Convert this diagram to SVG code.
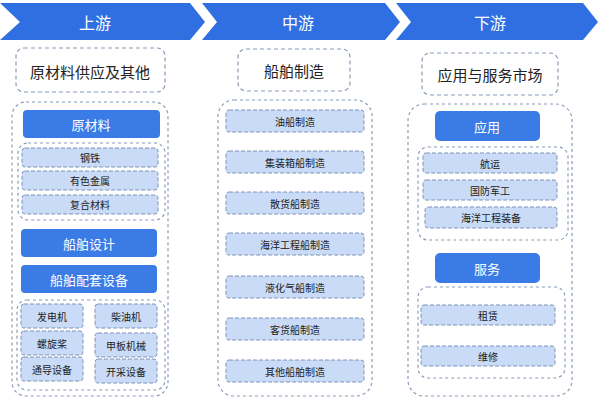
<svg xmlns="http://www.w3.org/2000/svg" width="600" height="400" viewBox="0 0 600 400">
<style>
text{font-family:"Noto Sans CJK SC","Noto Sans",sans-serif;text-anchor:middle;dominant-baseline:central}
.ban{fill:#2f6fe2}
.bt{fill:#fff;font-size:16px}
.hd{fill:#fff;stroke:#8a9bb8;stroke-width:1.2;stroke-dasharray:4 3}
.ht{fill:#222;font-size:15px}
.grp{fill:none;stroke:#8a9bb8;stroke-width:1.2;stroke-dasharray:3 3}
.blue{fill:#3a7be6}
.btx{fill:#fff;font-size:13px}
.it{fill:#c9dbf6;stroke:#7d93b8;stroke-width:1;stroke-dasharray:4 2}
.itx{fill:#222;font-size:10px}
.itx2{fill:#222;font-size:11px}
</style>
<rect width="600" height="400" fill="#fff"/>
<g id="banners">
<polygon class="ban" points="0,3 190,3 205,22 190,40 0,40 20,22"/>
<text class="bt" x="95" y="22">上游</text>
<polygon class="ban" points="202,3 385,3 400,22 385,40 202,40 217,22"/>
<text class="bt" x="298" y="22">中游</text>
<polygon class="ban" points="396,3 583,3 598,22 583,40 396,40 411,22"/>
<text class="bt" x="490" y="22">下游</text>
</g>
<g id="upstream">
<rect class="hd" x="16" y="48" width="149" height="44" rx="8"/>
<text class="ht" x="90" y="71">原材料供应及其他</text>
<rect class="grp" x="12" y="102" width="156" height="294" rx="14"/>
<rect class="blue" x="23" y="110" width="137" height="28" rx="4"/>
<text class="btx" x="91" y="124">原材料</text>
<rect class="grp" x="18" y="143" width="147" height="77" rx="10"/>
<rect class="it" x="22" y="148" width="136" height="19" rx="3"/><text class="itx" x="90" y="157.5">钢铁</text>
<rect class="it" x="22" y="171" width="136" height="19" rx="3"/><text class="itx" x="90" y="180.5">有色金属</text>
<rect class="it" x="22" y="195" width="136" height="19" rx="3"/><text class="itx" x="90" y="204.5">复合材料</text>
<rect class="blue" x="21" y="229" width="136" height="28" rx="4"/>
<text class="btx" x="89" y="243">船舶设计</text>
<rect class="blue" x="21" y="265" width="136" height="28" rx="4"/>
<text class="btx" x="89" y="279">船舶配套设备</text>
<rect class="grp" x="17" y="300" width="148" height="90" rx="10"/>
<rect class="it" x="21" y="304" width="62" height="24" rx="3"/><text class="itx" x="52" y="316">发电机</text>
<rect class="it" x="95" y="304" width="62" height="24" rx="3"/><text class="itx" x="126" y="316">柴油机</text>
<rect class="it" x="21" y="331" width="62" height="24" rx="3"/><text class="itx" x="52" y="343">螺旋桨</text>
<rect class="it" x="95" y="333" width="62" height="24" rx="3"/><text class="itx" x="126" y="345">甲板机械</text>
<rect class="it" x="21" y="357" width="62" height="24" rx="3"/><text class="itx" x="52" y="369">通导设备</text>
<rect class="it" x="95" y="359" width="62" height="24" rx="3"/><text class="itx" x="126" y="371">开采设备</text>
</g>
<g id="midstream">
<rect class="hd" x="238" y="49" width="112" height="42" rx="8"/>
<text class="ht" x="294" y="70">船舶制造</text>
<rect class="grp" x="218" y="100" width="154" height="296" rx="16"/>
<rect class="it" x="226" y="110" width="138" height="22" rx="3"/><text class="itx" x="295" y="121">油船制造</text>
<rect class="it" x="226" y="151" width="138" height="22" rx="3"/><text class="itx" x="295" y="162">集装箱船制造</text>
<rect class="it" x="226" y="192" width="138" height="22" rx="3"/><text class="itx" x="295" y="203">散货船制造</text>
<rect class="it" x="226" y="233" width="138" height="22" rx="3"/><text class="itx" x="295" y="244">海洋工程船制造</text>
<rect class="it" x="226" y="276" width="138" height="22" rx="3"/><text class="itx" x="295" y="287">液化气船制造</text>
<rect class="it" x="226" y="318" width="138" height="22" rx="3"/><text class="itx" x="295" y="329">客货船制造</text>
<rect class="it" x="226" y="360" width="138" height="22" rx="3"/><text class="itx" x="295" y="371">其他船舶制造</text>
</g>
<g id="downstream">
<rect class="hd" x="422" y="53" width="136" height="42" rx="8"/>
<text class="ht" x="490" y="74">应用与服务市场</text>
<rect class="grp" x="408" y="104" width="164" height="292" rx="16"/>
<rect class="blue" x="435" y="111" width="105" height="30" rx="5"/>
<text class="btx" x="487" y="126">应用</text>
<rect class="grp" x="418" y="147" width="150" height="93" rx="10"/>
<rect class="it" x="423" y="153" width="134" height="20" rx="3"/><text class="itx" x="490" y="163">航运</text>
<rect class="it" x="423" y="180" width="134" height="20" rx="3"/><text class="itx" x="490" y="190">国防军工</text>
<rect class="it" x="425" y="207" width="132" height="21" rx="3"/><text class="itx" x="491" y="217.5">海洋工程装备</text>
<rect class="blue" x="435" y="253" width="105" height="30" rx="5"/>
<text class="btx" x="487" y="268">服务</text>
<rect class="grp" x="418" y="287" width="147" height="91" rx="10"/>
<rect class="it" x="421" y="305" width="134" height="20" rx="3"/><text class="itx" x="488" y="315">租赁</text>
<rect class="it" x="421" y="346" width="134" height="20" rx="3"/><text class="itx" x="488" y="356">维修</text>
</g>
<g id="connectors"/>
</svg>
